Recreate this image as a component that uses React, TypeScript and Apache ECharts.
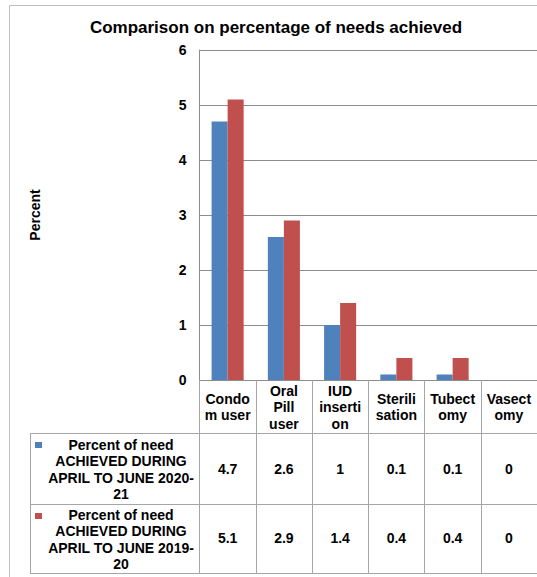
import React, { useEffect, useRef } from "react";
import * as echarts from "echarts";

const title = "Comparison on percentage of needs achieved";
const categories = ["Condo\nm user", "Oral\nPill\nuser", "IUD\ninserti\non", "Sterili\nsation", "Tubect\nomy", "Vasect\nomy"];
const seriesNames = [
  "Percent of need\nACHIEVED DURING\nAPRIL TO JUNE 2020-\n21",
  "Percent of need\nACHIEVED DURING\nAPRIL TO JUNE 2019-\n20",
];
const values2021 = [4.7, 2.6, 1, 0.1, 0.1, 0];
const values1920 = [5.1, 2.9, 1.4, 0.4, 0.4, 0];
const colors = ["#4F81BD", "#C0504D"];
const yName = "Percent";
const yMin = 0;
const yMax = 6;
const yInterval = 1;

const FONT = "'Liberation Sans', Arial, sans-serif";
const GRID_C = "#8c8c8c";
const TABLE_C = "#a6a6a6";

export default function App() {
  const ref = useRef<HTMLDivElement>(null);
  useEffect(() => {
    document.body.style.margin = "0";
    const chart = echarts.init(ref.current!, null, { renderer: "svg" });
    const gridLeft = 199.5;
    const gridTop = 50;
    const gridBottomY = 380;
    const rowLines = [433, 504, 573];
    const bold = { fontFamily: FONT, fontWeight: "bold" as const, fontSize: 14, color: "#000" };
    const valueAxis = (vals: number[], margin: number) => ({
      type: "category",
      gridIndex: 0,
      position: "bottom",
      data: vals.map((v) => String(v)),
      axisLine: { show: false },
      axisTick: { show: false },
      axisLabel: { ...bold, interval: 0, margin, verticalAlign: "middle", lineHeight: 16.5 },
    });
    chart.setOption({
      animation: false,
      title: {
        text: title,
        left: 271,
        top: 14,
        textAlign: "center",
        textStyle: { fontFamily: FONT, fontWeight: "bold", fontSize: 17, color: "#000" },
      },
      grid: { left: gridLeft, top: gridTop, right: 0, height: gridBottomY - gridTop, containLabel: false },
      xAxis: [
        {
          type: "category",
          data: categories,
          axisLine: { show: true, lineStyle: { color: GRID_C, width: 1 } },
          axisTick: { show: true, interval: 0, length: 193, lineStyle: { color: TABLE_C, width: 1 } },
          axisLabel: { ...bold, interval: 0, margin: 27, verticalAlign: "middle", lineHeight: 16.5 },
        },
        valueAxis(values2021, 89),
        valueAxis(values1920, 158),
      ],
      yAxis: {
        type: "value",
        min: yMin,
        max: yMax,
        interval: yInterval,
        name: yName,
        nameLocation: "middle",
        nameRotate: 90,
        nameGap: 158,
        nameTextStyle: { ...bold },
        axisLine: { show: true, lineStyle: { color: GRID_C } },
        axisTick: { show: false },
        splitLine: { show: true, lineStyle: { color: GRID_C, width: 1 } },
        axisLabel: { ...bold, margin: 13 },
      },
      series: [
        {
          type: "bar",
          name: seriesNames[0],
          data: values2021,
          itemStyle: { color: colors[0] },
          barGap: "0%",
          barCategoryGap: "43%",
        },
        {
          type: "bar",
          name: seriesNames[1],
          data: values1920,
          itemStyle: { color: colors[1] },
          barGap: "0%",
          barCategoryGap: "43%",
        },
      ],
      graphic: [
        { type: "rect", shape: { x: 9.5, y: 5.5, width: 540, height: 590 }, style: { fill: "none", stroke: "#bfbfbf", lineWidth: 1 }, silent: true },
        ...rowLines.map((y) => ({
          type: "line",
          shape: { x1: 30, y1: y + 0.5, x2: 537, y2: y + 0.5 },
          style: { stroke: TABLE_C, lineWidth: 1 },
          silent: true,
        })),
        { type: "line", shape: { x1: 30.5, y1: rowLines[0], x2: 30.5, y2: rowLines[2] }, style: { stroke: TABLE_C, lineWidth: 1 } },
        ...seriesNames.map((name, i) => ({
          type: "group",
          children: [
            { type: "rect", shape: { x: 35, y: rowLines[i] + 9, width: 7, height: 6 }, style: { fill: colors[i] } },
            {
              type: "text",
              x: 121,
              y: (rowLines[i] + rowLines[i + 1]) / 2 + 1,
              style: {
                text: name,
                fill: "#000",
                font: `bold 14px ${FONT}`,
                align: "center",
                verticalAlign: "middle",
                lineHeight: 16.5,
              },
            },
          ],
        })),
      ],
    });
    return () => chart.dispose();
  }, []);
  return <div ref={ref} style={{ width: 537, height: 577 }} />;
}
